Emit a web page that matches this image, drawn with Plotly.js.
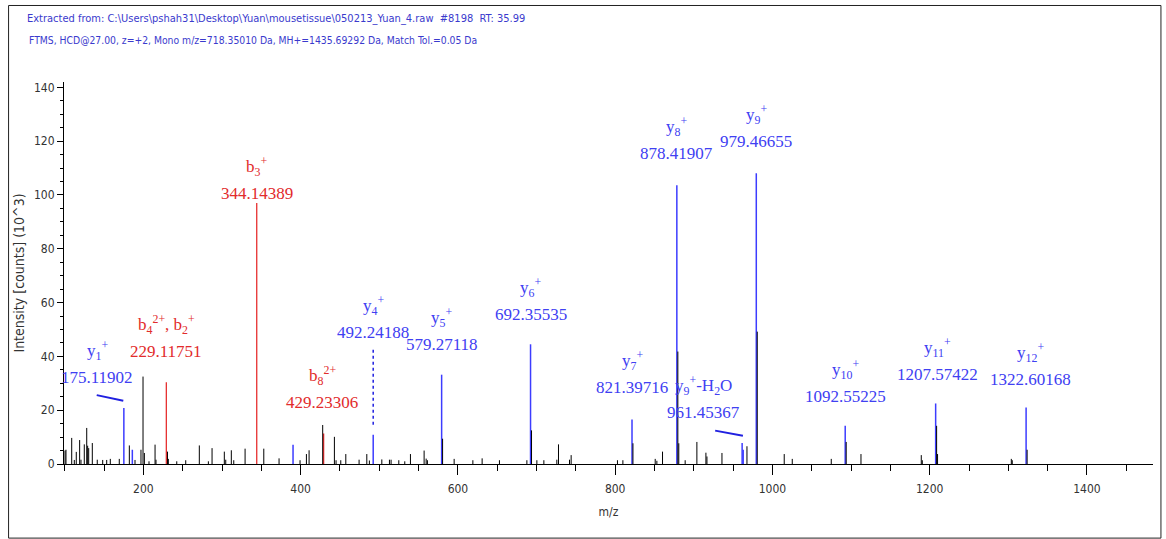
<!DOCTYPE html>
<html>
<head>
<meta charset="utf-8">
<script src="https://cdn.plot.ly/plotly-3.0.1.min.js"></script>
<style>
  html, body { margin: 0; padding: 0; background: #fff; }
  #chart { width: 1166px; height: 539px; }
</style>
</head>
<body>
<div id="chart"></div>
<script>
// ---- Data ----
// Annotated fragment ions
const ionMz    = [175.11902, 229.11751, 344.14389, 429.23306, 492.24188, 579.27118, 692.35535, 821.39716, 878.41907, 961.45367, 979.46655, 1092.55225, 1207.57422, 1322.60168];
const ionInt   = [20.8, 30.4, 97.0, 11.3, 10.9, 33.2, 44.5, 16.5, 103.6, 7.8, 108.1, 14.2, 22.5, 21.0];
const ionType  = ["y", "b", "b", "b", "y", "y", "y", "y", "y", "y", "y", "y", "y", "y"];
const ionName  = ["y<sub>1</sub><sup>+</sup>", "b<sub>4</sub><sup>2+</sup>, b<sub>2</sub><sup>+</sup>", "b<sub>3</sub><sup>+</sup>", "b<sub>8</sub><sup>2+</sup>",
                  "y<sub>4</sub><sup>+</sup>", "y<sub>5</sub><sup>+</sup>", "y<sub>6</sub><sup>+</sup>", "y<sub>7</sub><sup>+</sup>",
                  "y<sub>8</sub><sup>+</sup>", "y<sub>9</sub><sup>+</sup>-H<sub>2</sub>O", "y<sub>9</sub><sup>+</sup>", "y<sub>10</sub><sup>+</sup>",
                  "y<sub>11</sub><sup>+</sup>", "y<sub>12</sub><sup>+</sup>"];
const ionLabel = ["175.11902", "229.11751", "344.14389", "429.23306", "492.24188", "579.27118", "692.35535", "821.39716", "878.41907", "961.45367", "979.46655", "1092.55225", "1207.57422", "1322.60168"];

// Other matched (blue) peaks without labels
const extraBlueMz  = [185.9, 390.3, 962.8];
const extraBlueInt = [5.3, 7.2, 5.3];

// Unassigned (black) peaks
const blackMz = [100.3, 101.5, 108.8, 112.1, 114.6, 118.9, 120.6, 124.8, 127.9, 129.1, 130.4, 135.0, 141.3, 148.2, 153.3, 157.9, 169.3,
                 182.1, 189.3, 196.9, 199.5, 201.2, 207.1, 214.8, 216.0, 230.6, 231.7, 242.4, 253.8, 271.1, 282.6, 287.3, 302.9, 304.7,
                 311.8, 314.9, 329.3, 353.1, 372.5, 399.2, 407.3, 410.7, 428.0, 442.9, 445.0, 451.0, 457.4, 474.3, 484.1, 487.4,
                 503.2, 512.9, 515.0, 524.8, 532.4, 539.6, 557.0, 559.6, 561.2, 580.5, 595.2, 619.0, 630.8, 652.8, 687.7, 693.6,
                 700.4, 709.3, 725.8, 727.9, 741.9, 744.0, 802.9, 809.8, 822.6, 850.9, 853.0, 860.2, 879.7, 880.9, 889.0, 903.9,
                 915.4, 916.7, 935.8, 967.6, 980.7, 1015.0, 1025.2, 1074.8, 1093.8, 1112.6, 1189.3, 1190.6, 1208.8, 1210.0,
                 1303.8, 1305.0, 1323.9];
const blackInt = [5.0, 5.3, 9.7, 1.5, 4.5, 8.9, 1.6, 7.3, 13.4, 6.8, 5.9, 7.8, 1.6, 1.5, 1.5, 1.9, 1.9,
                  6.9, 1.5, 5.3, 32.5, 4.1, 1.0, 7.2, 1.6, 4.6, 1.9, 1.0, 1.4, 6.9, 1.0, 5.9, 4.6, 1.6,
                  5.1, 1.4, 5.7, 5.7, 2.1, 1.4, 3.7, 5.1, 14.5, 10.1, 1.4, 1.4, 3.7, 1.6, 3.7, 1.3,
                  1.7, 1.6, 1.6, 1.4, 1.0, 3.7, 5.0, 2.0, 1.4, 9.4, 1.9, 1.4, 2.1, 1.4, 1.4, 12.5,
                  1.4, 1.4, 1.6, 7.3, 1.6, 3.3, 1.4, 1.4, 7.7, 1.9, 1.2, 4.6, 41.8, 7.7, 1.4, 8.2,
                  4.2, 2.8, 4.1, 6.6, 49.2, 3.7, 1.9, 1.9, 8.2, 3.7, 3.3, 1.4, 14.2, 3.7,
                  1.9, 1.4, 5.3];

const headerLine1 = "Extracted from: C:\\Users\\pshah31\\Desktop\\Yuan\\mousetissue\\050213_Yuan_4.raw  #8198  RT: 35.99";
const headerLine2 = "FTMS, HCD@27.00, z=+2, Mono m/z=718.35010 Da, MH+=1435.69292 Da, Match Tol.=0.05 Da";

// ---- Label placement (layout only) ----
const labelDx = [-34, 0, 0, -2, 0, 0, 0, 0, 0, -49, 0, 0, 2, 6];          // m/z offset of label centre from peak
const labelY  = [32.0, 41.7, 100.7, 22.8, 48.8, 44.3, 55.4, 28.4, 115.6, 19.0, 119.7, 25.0, 33.2, 31.3]; // centre of number line

// ---- Helpers ----
function sticks(mz, inten) {
  const x = [], y = [];
  for (let i = 0; i < mz.length; i++) { x.push(mz[i], mz[i], null); y.push(0, inten[i], null); }
  return {x, y};
}
const BLUE = "#3c3cff", RED = "#e41e1e", BLUE_T = "#4040f2", RED_T = "#e22b2b";

const yIdx = [], bIdx = [];
ionType.forEach((t, i) => (t === "y" ? yIdx : bIdx).push(i));
const blueS = sticks(yIdx.map(i => ionMz[i]).concat(extraBlueMz), yIdx.map(i => ionInt[i]).concat(extraBlueInt));
const redS  = sticks(bIdx.map(i => ionMz[i]), bIdx.map(i => ionInt[i]));
const blackS = sticks(blackMz, blackInt);

const traces = [
  {type: "scatter", mode: "lines", x: redS.x, y: redS.y, line: {color: RED, width: 1.2}, hoverinfo: "skip", name: "b ions"},
  {type: "scatter", mode: "lines", x: blueS.x, y: blueS.y, line: {color: BLUE, width: 1.5}, hoverinfo: "skip", name: "y ions"},
  {type: "scatter", mode: "lines", x: blackS.x, y: blackS.y, line: {color: "#000", width: 1}, hoverinfo: "skip", name: "other"}
];

const serif = '"Liberation Serif", "Times New Roman", serif';
const narrow = '"Liberation Sans Narrow", "Arial Narrow", "DejaVu Sans Condensed", "Liberation Sans", Arial, sans-serif';

const annotations = [];
ionMz.forEach((m, i) => {
  const col = ionType[i] === "y" ? BLUE_T : RED_T;
  const x = m + labelDx[i];
  annotations.push({x: x, y: labelY[i], xref: "x", yref: "y", text: ionLabel[i], showarrow: false,
                    xanchor: "center", yanchor: "middle", font: {family: serif, size: 17, color: col}});
  annotations.push({x: x, y: labelY[i], xref: "x", yref: "y", yshift: 27, text: ionName[i], showarrow: false,
                    xanchor: "center", yanchor: "middle", font: {family: serif, size: 17, color: col}});
});
annotations.push({xref: "paper", yref: "paper", x: -0.034, y: 1.109, xanchor: "left", yanchor: "middle",
                  text: headerLine2, showarrow: false, font: {family: narrow, size: 10.3, color: "#3a3acd"}});

const shapes = [
  // connectors
  {type: "line", xref: "x", yref: "y", x0: ionMz[0] - 34.5, y0: 25.6, x1: ionMz[0] - 0.7, y1: 23.5, line: {color: "#2020e0", width: 2}},
  {type: "line", xref: "x", yref: "y", x0: ionMz[9] - 34.3, y0: 12.4, x1: ionMz[9] + 1.0, y1: 10.5, line: {color: "#2020e0", width: 2}},
  {type: "line", xref: "x", yref: "y", x0: ionMz[4], y0: 42.5, x1: ionMz[4], y1: 13.9, line: {color: "#2020e0", width: 1.5, dash: "dot"}},
  // outer frame
  {type: "rect", xref: "paper", yref: "paper", x0: -0.0509, x1: 1.0073, y0: -0.194, y1: 1.2003, line: {color: "#222", width: 1}}
];

const layout = {
  width: 1166, height: 539,
  margin: {l: 64, r: 13, t: 82, b: 75},
  paper_bgcolor: "#fff", plot_bgcolor: "#fff",
  showlegend: false,
  title: {text: headerLine1, x: 27 / 1166, xanchor: "left", y: 1 - 18 / 539, yanchor: "middle",
          font: {family: narrow, size: 11, color: "#3a3acd"}},
  xaxis: {
    range: [99, 1484], showgrid: false, zeroline: false, showline: true, linecolor: "#000", linewidth: 1,
    ticks: "outside", tick0: 0, dtick: 200, ticklen: 10, tickcolor: "#000", ticklabelstandoff: 4,
    minor: {ticks: "outside", dtick: 50, tick0: 0, ticklen: 6, tickcolor: "#000", showgrid: false},
    tickfont: {family: narrow, size: 12, color: "#333"},
    title: {text: "m/z", font: {family: narrow, size: 12, color: "#333"}, standoff: 12}
  },
  yaxis: {
    range: [0, 142], showgrid: false, zeroline: false, showline: true, linecolor: "#000", linewidth: 1,
    ticks: "outside", tick0: 0, dtick: 20, ticklen: 6, tickcolor: "#000",
    minor: {ticks: "outside", dtick: 5, tick0: 0, ticklen: 3, tickcolor: "#000", showgrid: false},
    tickfont: {family: narrow, size: 12, color: "#333"},
    title: {text: "Intensity [counts] (10^3)", font: {family: narrow, size: 14, color: "#333"}, standoff: 6}
  },
  annotations: annotations,
  shapes: shapes
};

Plotly.newPlot("chart", traces, layout, {displayModeBar: false, staticPlot: true});
</script>
</body>
</html>
